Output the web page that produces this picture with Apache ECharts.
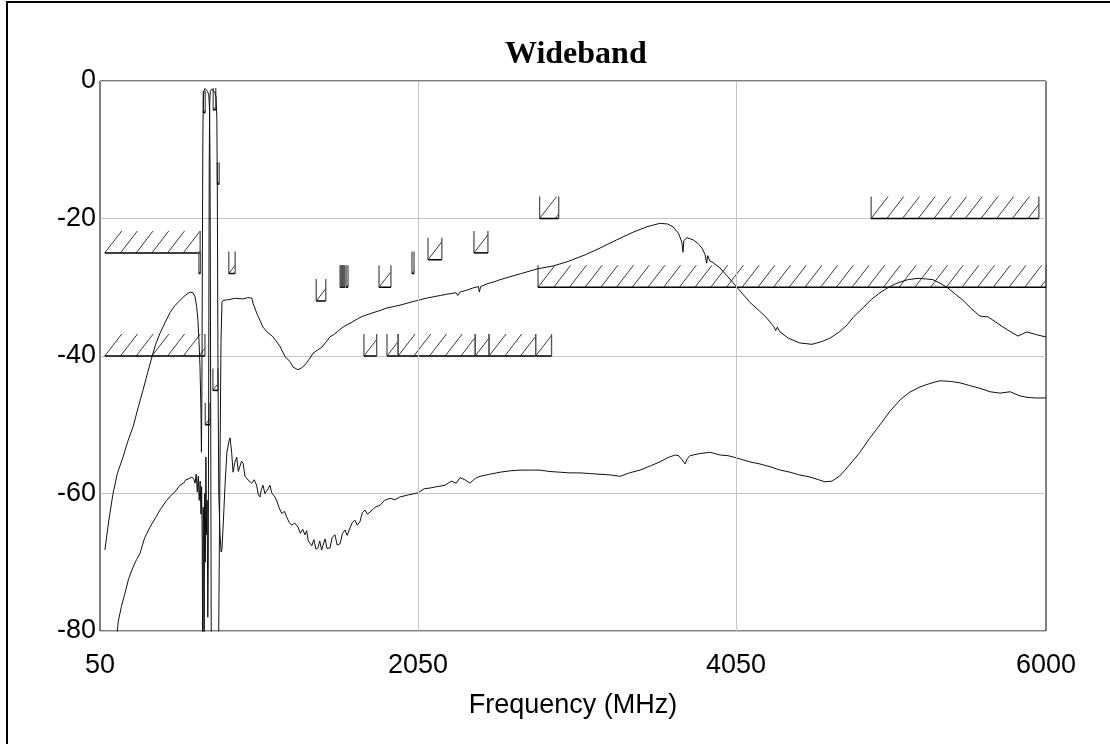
<!DOCTYPE html>
<html>
<head>
<meta charset="utf-8">
<script src="https://cdn.jsdelivr.net/npm/echarts@6/dist/echarts.min.js"></script>
<style>
  html, body { margin: 0; padding: 0; background: #fff; }
  #chart { width: 1110px; height: 744px; }
</style>
</head>
<body>
<div id="chart"></div>
<script>
// ---------- data ----------
const chartTitle = 'Wideband';
const xAxisName = 'Frequency (MHz)';
const xTicks = [50, 2050, 4050, 6000];
const yTicks = [0, -20, -40, -60, -80];

// upper trace (MHz, dB)
const upperFreq = [81,105,132,160,195,225,258,290,320,350,377,400,427,460,490,520,553,585,616,635,648,658,666,673,679,685,688,691,694,697,700,704,710,718,726,734,739,742,745,748,750,795,805,811,817,824,860,900,949,980,1006,1012,1040,1075,1105,1138,1182,1214,1245,1264,1295,1320,1339,1371,1390,1420,1446,1470,1497,1520,1541,1578,1610,1641,1670,1704,1767,1810,1855,1900,1937,2000,2050,2100,2144,2190,2233,2290,2300,2314,2360,2396,2430,2436,2444,2484,2530,2566,2610,2700,2805,2900,2987,3100,3195,3300,3402,3490,3572,3620,3654,3690,3710,3717,3722,3742,3780,3810,3836,3855,3866,3872,3880,3886,3899,3950,4000,4056,4138,4200,4245,4290,4300,4310,4327,4380,4450,4528,4590,4641,4700,4748,4790,4817,4849,4900,4956,5010,5063,5130,5195,5250,5289,5340,5377,5430,5478,5530,5585,5635,5680,5730,5780,5824,5850,5880,5940,5994,6000];
const upperLoss = [-68.2,-64,-60,-57,-54.7,-52.4,-50.3,-47.5,-45,-42.4,-40.1,-38.3,-36.7,-35.1,-33.7,-32.7,-31.9,-31.2,-30.7,-30.8,-31.4,-32.8,-34.8,-38,-41.6,-48,-54,-45,-25,-8,-2.5,-1.4,-1.1,-1.2,-1.5,-2.0,-4,-12,-35,-65,-85,-85,-55,-38,-32.2,-31.9,-31.8,-31.6,-31.7,-31.5,-31.6,-32.3,-34,-35.8,-36.6,-37.2,-38.6,-40.1,-40.8,-41.6,-42,-41.7,-41.3,-40.3,-39.6,-39.1,-38.7,-38.0,-37.2,-36.9,-36.5,-35.8,-35.4,-35,-34.6,-34.2,-33.7,-33.4,-33,-32.8,-32.6,-32.2,-31.9,-31.6,-31.4,-31.2,-31.0,-30.8,-31.2,-30.7,-30.4,-30.1,-29.9,-30.7,-29.9,-29.5,-29.2,-28.9,-28.6,-28.0,-27.3,-26.9,-26.3,-25.3,-24.3,-23.1,-22.0,-21.2,-20.7,-20.8,-21.2,-22.2,-23.5,-24.9,-23.2,-22.8,-23.1,-23.6,-24.3,-25.2,-26.5,-25.4,-25.3,-26.2,-26.3,-27.2,-28.5,-30,-32.2,-33.5,-34.5,-35.8,-36.3,-35.8,-36.5,-37.4,-38.1,-38.3,-37.9,-37.4,-36.5,-35.5,-34.3,-33.7,-33.0,-31.8,-30.8,-30.0,-29.4,-28.9,-28.7,-28.8,-28.9,-29.5,-30,-31.0,-31.9,-33.1,-34.2,-34.3,-35.0,-35.8,-36.5,-37.1,-36.8,-36.5,-36.9,-37.2,-37.2];

// lower trace (MHz, dB)
const lowerFreq = [157,165,185,207,230,258,280,302,330,364,400,430,469,500,520,553,575,590,605,627,640,648,655,662,668,674,680,685,689,693,696,699,702,705,708,712,716,720,724,728,731,734,737,740,744,752,762,772,780,785,788,792,797,805,812,817,826,836,848,860,868,878,887,898,910,920,930,940,950,962,973,988,1004,1020,1035,1046,1056,1065,1075,1087,1098,1108,1119,1130,1138,1150,1161,1177,1193,1210,1224,1240,1256,1275,1296,1310,1325,1339,1350,1360,1371,1382,1395,1408,1421,1432,1444,1453,1466,1478,1497,1510,1528,1542,1560,1575,1591,1605,1622,1638,1654,1668,1685,1700,1717,1732,1748,1780,1811,1840,1874,1905,1937,1990,2050,2090,2126,2170,2220,2260,2290,2314,2345,2377,2410,2440,2500,2566,2630,2692,2750,2817,2880,2943,3000,3069,3130,3195,3260,3321,3380,3446,3510,3572,3620,3667,3690,3711,3730,3745,3761,3820,3887,3950,4000,4050,4138,4200,4264,4330,4390,4450,4516,4570,4610,4654,4700,4736,4780,4830,4890,4956,5020,5082,5140,5207,5270,5333,5400,5459,5520,5585,5648,5711,5774,5836,5880,5931,6000];
const lowerLoss = [-80.5,-78.6,-76.4,-74.5,-72.4,-70.7,-69.6,-68.7,-66.5,-64.9,-63.5,-62.3,-61,-60.2,-59.8,-58.8,-58.5,-58.0,-57.9,-57.6,-57.9,-58.5,-57.2,-59.8,-57.5,-61,-58.2,-63,-59,-67,-85,-62,-65,-85,-60,-70,-54.7,-66,-61,-78,-70,-40,-12,-3.2,-1.5,-1.2,-1.3,-1.6,-2.3,-5.5,-16,-42,-60,-66,-68.5,-68.2,-64,-59,-54,-52.5,-51.9,-54,-56.9,-55.5,-54.7,-56.8,-56.6,-55.3,-55.6,-57.5,-57.7,-58.2,-58.5,-58.0,-58.8,-60.2,-60.5,-59.4,-58.8,-60.0,-60.2,-59.3,-58.8,-59.9,-60,-60.5,-61,-62.1,-62.9,-62.6,-63.4,-64.2,-64.6,-64.3,-64.9,-65.8,-65.2,-66,-65.4,-66.9,-66.8,-67.6,-66.7,-68.1,-67.9,-66.9,-68.2,-67.5,-66.6,-68.0,-67.9,-66.4,-66.0,-67.5,-67.3,-65.8,-65.3,-66.1,-65.0,-64.2,-63.9,-64.6,-64.1,-62.8,-62.4,-63.0,-62.7,-62.0,-61.7,-61.0,-60.7,-60.9,-60.5,-60.2,-59.9,-59.3,-59.2,-59.0,-58.8,-58.2,-58.5,-57.7,-58.0,-58.5,-57.8,-57.5,-57.2,-56.9,-56.7,-56.6,-56.6,-56.6,-56.8,-56.9,-57.0,-57.0,-57.1,-57.2,-57.3,-57.5,-57.0,-56.6,-56.0,-55.4,-54.8,-54.4,-54.5,-55.1,-55.7,-54.9,-54.5,-54.2,-54.0,-54.4,-54.5,-54.8,-55.4,-55.7,-56.1,-56.6,-56.9,-57.3,-57.6,-58.0,-58.3,-58.2,-57.5,-56.6,-55.4,-54.0,-52.0,-50.0,-48.0,-46.4,-45.3,-44.5,-44.0,-43.6,-43.7,-43.9,-44.3,-44.7,-45.2,-45.4,-45.2,-45.8,-46.0,-46.1,-46.1];

// limit masks: start MHz, end MHz, level dB
const maskStart = [80, 672, 860, 80, 700, 762, 788, 712, 760, 1410, 1560, 1566, 1572, 1578, 1584, 1598, 1805, 2012, 2113, 2402, 2815, 2805, 4900, 1710, 1855, 1925, 2410, 2497, 2790];
const maskEnd   = [680, 682, 900, 710, 712, 778, 800, 742, 792, 1470, 1566, 1572, 1578, 1584, 1590, 1610, 1880, 2025, 2200, 2490, 2935, 6000, 5955, 1790, 1925, 2410, 2497, 2790, 2890];
const maskLevel = [-25, -28, -28, -40, -4.6, -4.2, -15, -50, -45, -32, -30, -30, -30, -30, -30, -30, -30, -28, -26, -25, -20, -30, -20, -40, -40, -40, -40, -40, -40];

// ---------- build ----------
const upperData = upperFreq.map((f, i) => [f, upperLoss[i]]);
const lowerData = lowerFreq.map((f, i) => [f, lowerLoss[i]]);
const maskData = maskStart.map((s, i) => [s, maskEnd[i], maskLevel[i]]);

const HATCH_H = 22, HATCH_SP = 15.7, HATCH_DX = 17;

function renderMask(params, api) {
  const f1 = api.value(0), f2 = api.value(1), lv = api.value(2);
  const a = api.coord([f1, lv]);
  const b = api.coord([f2, lv]);
  const y = a[1], top = y - HATCH_H;
  const children = [];
  for (let x0 = a[0]; x0 < b[0] - 0.5; x0 += HATCH_SP) {
    let x1 = x0 + HATCH_DX, y1 = top;
    if (x1 > b[0]) { const t = (b[0] - x0) / HATCH_DX; x1 = b[0]; y1 = y - HATCH_H * t; }
    children.push({ type: 'line', shape: { x1: x0, y1: y, x2: x1, y2: y1 },
      style: { stroke: '#3a3a3a', lineWidth: 1 } });
  }
  if (f1 > 100) {
    children.push({ type: 'line', shape: { x1: a[0], y1: top, x2: a[0], y2: y },
      style: { stroke: '#555', lineWidth: 1.3 } });
  }
  children.push({ type: 'line', shape: { x1: b[0], y1: top, x2: b[0], y2: y },
    style: { stroke: '#555', lineWidth: 1.3 } });
  children.push({ type: 'line', shape: { x1: a[0], y1: y, x2: b[0], y2: y },
    style: { stroke: '#000', lineWidth: 1.5 } });
  return { type: 'group', children };
}

const chart = echarts.init(document.getElementById('chart'), null, { renderer: 'canvas' });
const labelFont = { fontFamily: 'Liberation Sans', fontSize: 27, color: '#000' };

chart.setOption({
  animation: false,
  backgroundColor: '#fff',
  title: {
    text: chartTitle,
    left: 500, top: 34,
    textStyle: { fontFamily: 'Liberation Serif', fontWeight: 'bold', fontSize: 32, color: '#000' }
  },
  graphic: [{
    type: 'polyline',
    shape: { points: [[7, 744], [7, 2], [1110, 2]] },
    style: { stroke: '#000', lineWidth: 2, fill: null }
  }],
  grid: {
    left: 100, top: 81, right: 64, bottom: 113,
    show: true, borderColor: '#000', borderWidth: 1, backgroundColor: 'transparent'
  },
  xAxis: {
    type: 'value', min: xTicks[0], max: xTicks[xTicks.length - 1],
    axisLine: { show: false }, axisTick: { show: false },
    axisLabel: { ...labelFont, margin: 21, customValues: xTicks, formatter: v => String(v) },
    splitLine: { show: false },
    name: xAxisName, nameLocation: 'middle', nameGap: 61,
    nameTextStyle: labelFont
  },
  yAxis: {
    type: 'value', min: yTicks[yTicks.length - 1], max: yTicks[0], interval: 20,
    axisLine: { show: false }, axisTick: { show: false },
    axisLabel: { ...labelFont, margin: 4, formatter: v => String(v) },
    splitLine: { show: true, lineStyle: { color: '#c4c4c4', width: 1 } }
  },
  series: [
    {
      name: 'gridX', type: 'line', data: [[xTicks[0], -200]], z: 1, silent: true,
      showSymbol: false, lineStyle: { opacity: 0 },
      markLine: {
        silent: true, symbol: 'none', label: { show: false },
        lineStyle: { color: '#c4c4c4', type: 'solid', width: 1 },
        data: xTicks.slice(1, -1).map(v => ({ xAxis: v }))
      }
    },
    {
      name: 'masks', type: 'custom', renderItem: renderMask, data: maskData,
      encode: { x: [0, 1], y: 2 }, z: 2, clip: false, silent: true
    },
    {
      name: 'upper', type: 'line', data: upperData, showSymbol: false, z: 3,
      lineStyle: { color: '#111', width: 1 }, clip: true
    },
    {
      name: 'lower', type: 'line', data: lowerData, showSymbol: false, z: 3,
      lineStyle: { color: '#111', width: 1 }, clip: true
    }
  ]
});
</script>
</body>
</html>
